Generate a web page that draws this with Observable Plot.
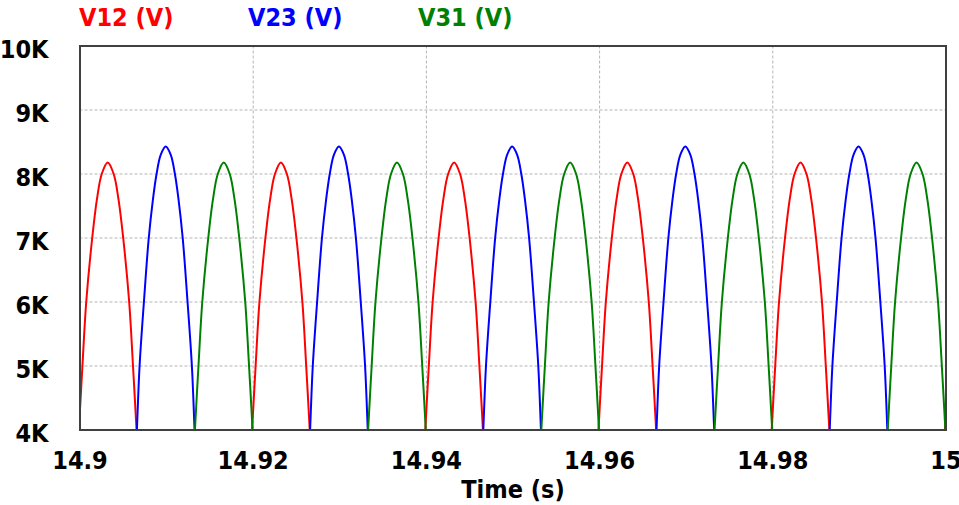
<!DOCTYPE html>
<html>
<head>
<meta charset="utf-8">
<script src="https://cdn.jsdelivr.net/npm/d3@7"></script>
<script src="https://cdn.jsdelivr.net/npm/@observablehq/plot@0.6"></script>
<style>
  html, body { margin: 0; padding: 0; background: #fff; }
  body { width: 959px; height: 505px; overflow: hidden; font-family: "DejaVu Sans Condensed", "DejaVu Sans", sans-serif; font-stretch: condensed; }
  #legend { position: relative; height: 30px; width: 959px; }
  #legend span { position: absolute; top: 3px; font-size: 25px; font-weight: bold; line-height: 30px; white-space: nowrap; }
</style>
</head>
<body>
<div id="legend"></div>
<div id="chart"></div>
<script>
// ---- data ----
const seriesNames = ["V12 (V)", "V23 (V)", "V31 (V)"];
const seriesColors = ["#ff0000", "#0000ff", "#008000"];
const legendLeft = [79, 248, 418];

// times of each arc's peak (s)
const peakTimesV12 = [14.9032, 14.9232, 14.9432, 14.9632, 14.9832, 15.0032];
const peakTimesV23 = [14.9099, 14.9299, 14.9499, 14.9699, 14.9899];
const peakTimesV31 = [14.9166, 14.9366, 14.9566, 14.9766, 14.9966];

// peak value of each series (V)
const peakValueV12 = 8180;
const peakValueV23 = 8430;
const peakValueV31 = 8180;

// arc shape: levels (V) and the half-width (ms) of the arc at each level
const levelsV12 = [3600, 4000, 5000, 6000, 7000, 7600, 8000];
const halfWidthV12 = [3.48, 3.33, 2.92, 2.48, 1.79, 1.25, 0.69];
const levelsV23 = [3600, 4000, 5000, 6000, 7000, 7600, 8000, 8300];
const halfWidthV23 = [3.46, 3.33, 3.02, 2.52, 1.96, 1.48, 1.06, 0.58];
const levelsV31 = [3600, 4000, 5000, 6000, 7000, 7600, 8000];
const halfWidthV31 = [3.48, 3.33, 2.92, 2.48, 1.79, 1.25, 0.69];

// axis ticks
const xTicks = [14.9, 14.92, 14.94, 14.96, 14.98, 15];
const yTicks = [4000, 5000, 6000, 7000, 8000, 9000, 10000];
const yTickLabels = ["4K", "5K", "6K", "7K", "8K", "9K", "10K"];
const xLabel = "Time (s)";

// ---- build table for the line mark ----
const seriesDefs = [
  {name: seriesNames[0], peaks: peakTimesV12, peak: peakValueV12, levels: levelsV12, hw: halfWidthV12},
  {name: seriesNames[1], peaks: peakTimesV23, peak: peakValueV23, levels: levelsV23, hw: halfWidthV23},
  {name: seriesNames[2], peaks: peakTimesV31, peak: peakValueV31, levels: levelsV31, hw: halfWidthV31}
];
const points = [];
seriesDefs.forEach((s) => {
  s.peaks.forEach((tp, k) => {
    const arc = s.name + "#" + k;
    for (let i = 0; i < s.levels.length; i++) points.push({series: s.name, arc, t: tp - s.hw[i] / 1000, v: s.levels[i]});
    points.push({series: s.name, arc, t: tp, v: s.peak});
    for (let i = s.levels.length - 1; i >= 0; i--) points.push({series: s.name, arc, t: tp + s.hw[i] / 1000, v: s.levels[i]});
  });
});

// ---- legend ----
const legend = document.getElementById("legend");
seriesNames.forEach((n, i) => {
  const sp = document.createElement("span");
  sp.textContent = n;
  sp.style.left = legendLeft[i] + "px";
  sp.style.color = seriesColors[i];
  legend.appendChild(sp);
});

const fontFam = '"DejaVu Sans Condensed", "DejaVu Sans", sans-serif';
const chart = Plot.plot({
  width: 959,
  height: 475,
  marginLeft: 79.5,
  marginRight: 13.5,
  marginTop: 15.5,
  marginBottom: 75.5,
  style: {fontFamily: fontFam, fontSize: "25px", fontWeight: "bold", color: "#000", background: "#fff", overflow: "visible"},
  x: {domain: [14.9, 15]},
  y: {domain: [4000, 10000]},
  color: {domain: seriesNames, range: seriesColors},
  marks: [
    Plot.gridX(xTicks, {stroke: "#b4b4b4", strokeOpacity: 1, strokeDasharray: "3,2", strokeWidth: 1}),
    Plot.gridY(yTicks, {stroke: "#b4b4b4", strokeOpacity: 1, strokeDasharray: "3,2", strokeWidth: 1}),
    Plot.line(points, {x: "t", y: "v", z: "arc", stroke: "series", strokeWidth: 2, curve: "catmull-rom", clip: true}),
    Plot.frame({stroke: "#404040", strokeWidth: 2}),
    Plot.axisX({ticks: xTicks, tickSize: 0, tickPadding: 21, tickFormat: (d) => String(+d.toFixed(2)), label: null, fontSize: 25, fontWeight: "bold", fill: "#000"}),
    Plot.axisY({ticks: yTicks, tickSize: 0, tickPadding: 31.5, dy: 4, tickFormat: (d) => yTickLabels[yTicks.indexOf(d)], label: null, fontSize: 25, fontWeight: "bold", fill: "#000"}),
    Plot.text([xLabel], {frameAnchor: "bottom", dy: 68, text: (d) => d, fontSize: 25, fontWeight: "bold", fill: "#000"})
  ]
});
document.getElementById("chart").appendChild(chart);
</script>
</body>
</html>
